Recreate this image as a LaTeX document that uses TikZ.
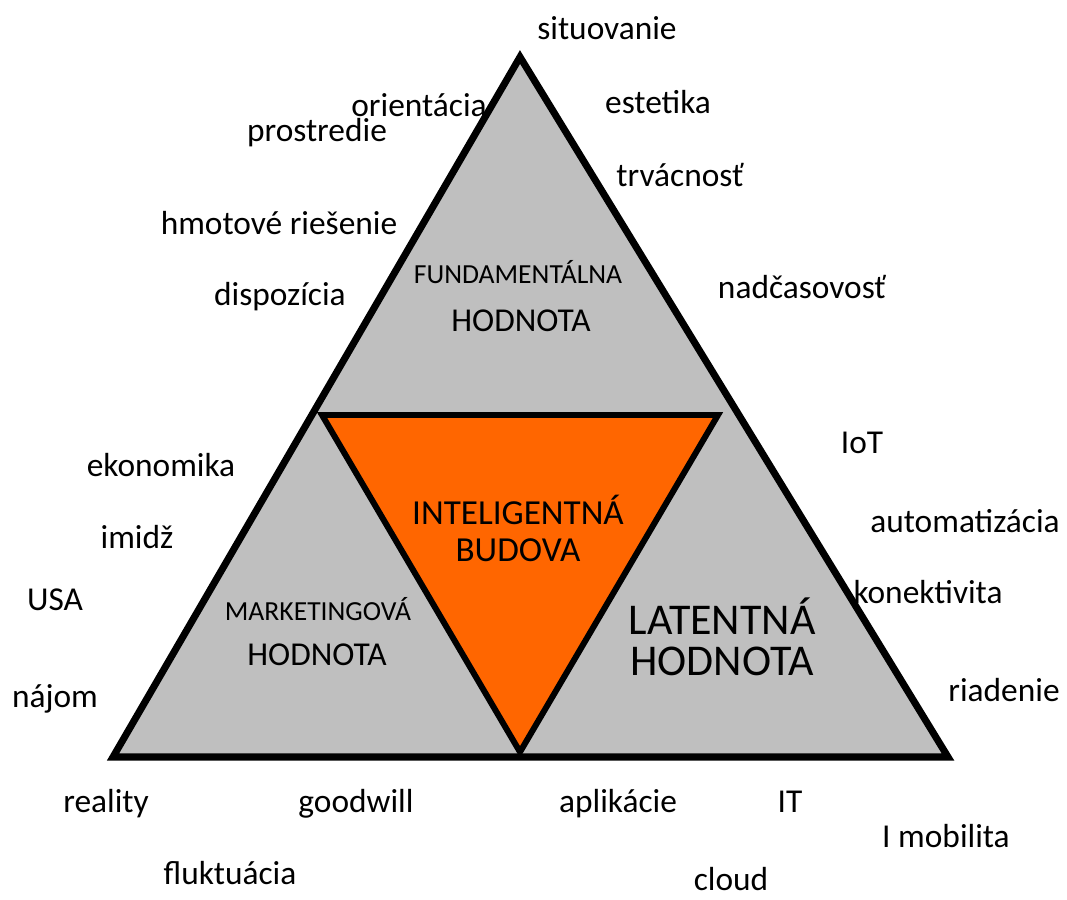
\documentclass[tikz,border=0pt]{standalone}
\usepackage{fontspec}
\setmainfont{Carlito}
\usetikzlibrary{positioning}

\begin{document}
\begin{tikzpicture}[
  x=0.2mm, y=-0.2mm,
  lbl/.style={inner sep=0pt, font=\fontsize{19}{22}\selectfont},
  small/.style={inner sep=0pt, font=\fontsize{15.7}{17}\selectfont},
  big/.style={inner sep=0pt, font=\fontsize{25}{27}\selectfont, align=center},
  mid/.style={inner sep=0pt, font=\fontsize{20}{18}\selectfont, text height=0.72em, text depth=0pt},
  outer/.style={draw=black, line width=4pt},
  inner/.style={draw=black, line width=3.4pt}
]
\useasboundingbox (0,0) rectangle (1067,899);
% --- corners ---------------------------------------------------------------
\coordinate (top) at (520,57);
\coordinate (bl)  at (113,757);
\coordinate (br)  at (948,757);
\coordinate (il)  at (322,415);
\coordinate (ir)  at (718,415);
\coordinate (ib)  at (520,752);

% --- triangles -------------------------------------------------------------
\draw[outer, fill={rgb,255:red,191;green,191;blue,191}] (top) -- (br) -- (bl) -- cycle;
\draw[inner, fill={rgb,255:red,255;green,102;blue,0}] (il) -- (ir) -- (ib) -- cycle;

% --- values ----------------------------------------------------------------
\node[small] (fund)  at (518,272) {FUNDAMENTÁLNA};
\node[lbl]   (fundh) at (521,321) {HODNOTA};
\node[small] (mark)  at (318,609) {MARKETINGOVÁ};
\node[lbl]   (markh) at (317,655) {HODNOTA};
\node[big]   (lat)   at (722,637) {LATENTNÁ\\[-4pt]HODNOTA};
\node[mid]   (intel) at (518,518) {INTELIGENTNÁ};
\node[mid]   (bud)   at (518,555) {BUDOVA};

% --- keywords --------------------------------------------------------------
\foreach \n/\x/\y/\t in {
    sit/607/28/situovanie, ori/419/105/orientácia, est/658/102/estetika,
    pro/317/133/prostredie, trv/680/175/trvácnosť, hmo/279/223/hmotové riešenie,
    nad/802/287/nadčasovosť, dis/280/297/dispozícia,
    iot/862/443/IoT, eko/161/465/ekonomika, aut/965/521/automatizácia,
    imi/137/537/imidž, kon/928/592/konektivita, usa/55/600/USA,
    ria/1004/690/riadenie, naj/55/699/nájom,
    rea/106/804/reality, goo/356/804/goodwill, apl/618/804/aplikácie,
    it/790/802/IT, mob/946/836/I mobilita, flu/230/873/fluktuácia,
    clo/731/879/cloud}
  \node[lbl] (\n) at (\x,\y) {\t};
\end{tikzpicture}
\end{document}
